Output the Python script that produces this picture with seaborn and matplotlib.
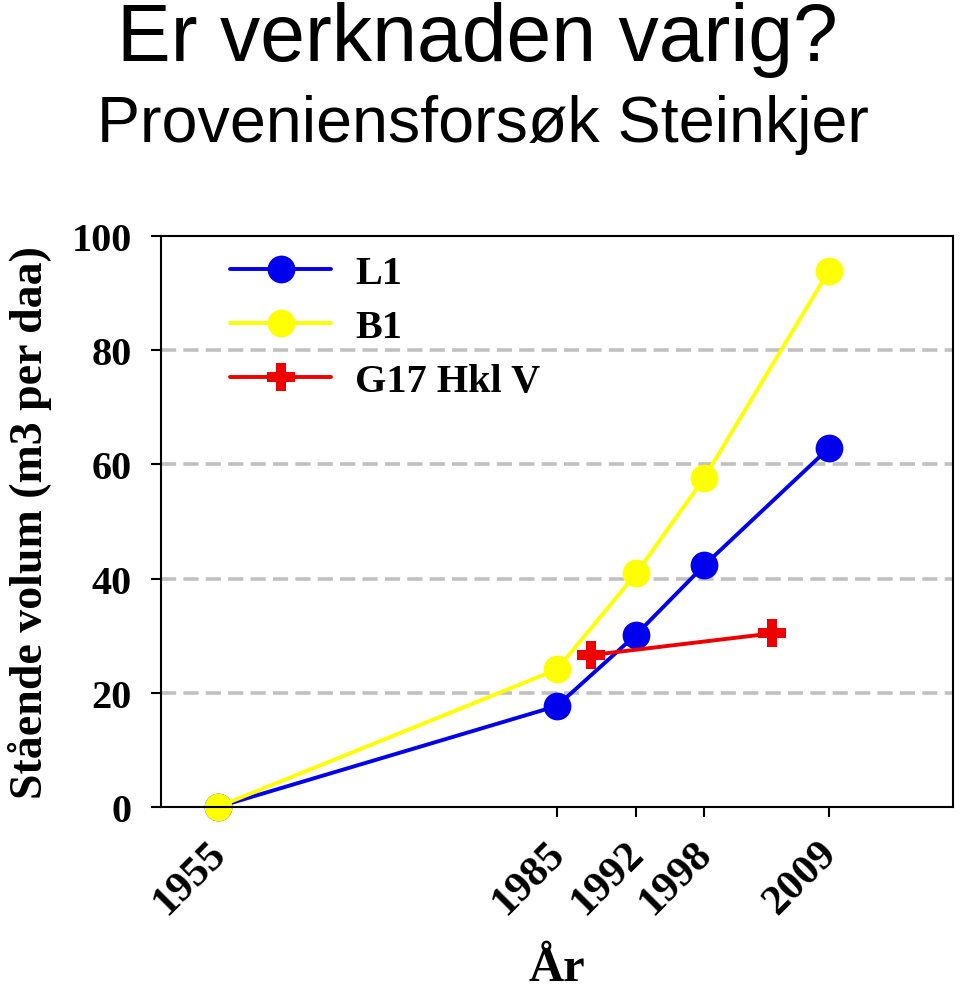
import matplotlib
matplotlib.use("Agg")
import matplotlib.pyplot as plt
import matplotlib.transforms as mtransforms
import seaborn as sns
import pandas as pd

# data
years_main = [1955, 1985, 1992, 1998, 2009]
l1_vol = [0, 17.7, 30.2, 42.3, 62.8]
b1_vol = [0, 24.1, 40.9, 57.6, 93.8]
g17_years = [1988, 2004]
g17_vol = [26.6, 30.4]

series_names = ["L1", "B1", "G17 Hkl V"]
series_colors = ["#0000ee", "#ffff00", "#ee0000"]
series_markers = ["o", "o", "P"]
y_ticks = [0, 20, 40, 60, 80, 100]
x_ticks = [1955, 1985, 1992, 1998, 2009]

df = pd.concat([
    pd.DataFrame({"year": years_main, "vol": l1_vol, "serie": "L1"}),
    pd.DataFrame({"year": years_main, "vol": b1_vol, "serie": "B1"}),
    pd.DataFrame({"year": g17_years, "vol": g17_vol, "serie": "G17 Hkl V"}),
])

sns.set_style("white")
plt.rcParams["font.family"] = ["Liberation Serif", "DejaVu Serif"]
plt.rcParams["text.color"] = "black"
plt.rcParams["axes.labelcolor"] = "black"
plt.rcParams["xtick.color"] = "black"
plt.rcParams["ytick.color"] = "black"

fig = plt.figure(figsize=(9.6, 9.95), dpi=100)
ax = fig.add_axes([161 / 960, 1 - 808 / 995, (953 - 161) / 960, (808 - 237) / 995])

for ref in [20, 40, 60, 80]:
    ax.axhline(ref, color="#c0c0c0", linewidth=2.6, dashes=(4.2, 2.0), zorder=0)

for name, color, marker in zip(series_names, series_colors, series_markers):
    sub = df[df["serie"] == name]
    sns.lineplot(data=sub, x="year", y="vol", ax=ax, color=color, marker=marker,
                 markersize=20, markeredgewidth=0, linewidth=2.8, label=name,
                 sort=False, clip_on=False)

ax.set_xlim(1950, 2020)
ax.set_ylim(0, 100)
ax.set_yticks(y_ticks)
ax.set_xticks(x_ticks)
ax.set_yticklabels([str(v) for v in y_ticks], fontsize=29, fontweight="bold")
ax.set_xticklabels([str(v) for v in x_ticks], fontsize=31, fontweight="bold",
                   rotation=45, ha="right", rotation_mode="anchor")
ax.tick_params(axis="both", direction="out", length=7, width=1.5, color="black",
               left=True, bottom=True)
ax.tick_params(axis="y", pad=14)
ax.tick_params(axis="x", pad=12)
# nudge rotated year labels a bit to the left
shift = mtransforms.ScaledTranslation(-11 / 100, 0, fig.dpi_scale_trans)
for lab in ax.get_xticklabels():
    lab.set_transform(lab.get_transform() + shift)
for sp in ax.spines.values():
    sp.set_color("black")
    sp.set_linewidth(1.5)

ax.set_xlabel("År", fontsize=35, fontweight="bold", labelpad=18)
ax.set_ylabel("Stående volum (m3 per daa)", fontsize=33, fontweight="bold", labelpad=14)

ax.legend(loc="upper left", bbox_to_anchor=(0.067, 0.995), frameon=False,
          prop={"family": "Liberation Serif", "weight": "bold", "size": 29},
          handlelength=2.5, handletextpad=0.6, labelspacing=0.42, borderaxespad=0)

fig.text(0.497, 0.998, "Er verknaden varig?", ha="center", va="top",
         fontsize=58, family="Liberation Sans")
fig.text(0.503, 0.905, "Proveniensforsøk Steinkjer", ha="center", va="top",
         fontsize=46.5, family="Liberation Sans")

fig.savefig("out.png", dpi=100)
